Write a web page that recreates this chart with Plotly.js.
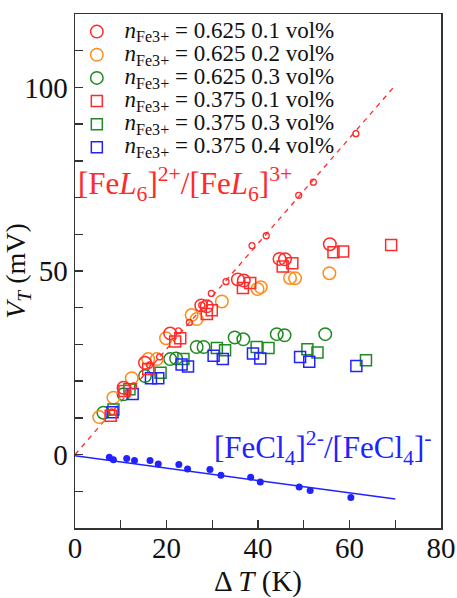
<!DOCTYPE html>
<html>
<head>
<meta charset="utf-8">
<script src="https://cdn.plot.ly/plotly-3.0.1.min.js"></script>
<style>html,body{margin:0;padding:0;background:#fff;}#chart{width:457px;height:598px;}</style>
</head>
<body>
<div id="chart"></div>
<script>
// ---- data ----
var seriesNames = [
  '0.625 0.1 vol%', '0.625 0.2 vol%', '0.625 0.3 vol%',
  '0.375 0.1 vol%', '0.375 0.3 vol%', '0.375 0.4 vol%'
];

var redCircX = [10.6, 15.3, 20.8, 27.6, 28.8, 35.6, 36.9, 44.7, 45.9, 55.7];
var redCircY = [18.2, 25.0, 33.0, 40.6, 40.4, 47.7, 47.4, 53.3, 53.2, 57.3];

var orangeX = [5.3, 8.4, 12.4, 16.0, 17.9, 19.9, 25.5, 26.6, 32.1, 39.9, 40.6, 47.0, 48.1, 55.6];
var orangeY = [10.2, 15.5, 20.8, 26.0, 26.0, 31.7, 38.0, 36.9, 41.7, 45.1, 45.6, 48.1, 48.0, 49.4];

var greenCircX = [6.2, 10.6, 15.3, 20.8, 22.1, 26.6, 28.1, 34.9, 36.8, 44.1, 45.8, 54.7];
var greenCircY = [11.4, 16.4, 21.4, 26.0, 26.2, 29.3, 29.3, 31.9, 31.4, 32.8, 32.5, 32.8];

var redSqX = [7.8, 10.8, 16.0, 21.9, 23.0, 28.8, 29.9, 36.7, 38.3, 45.4, 47.5, 56.5, 58.6, 69.1];
var redSqY = [10.6, 17.3, 23.3, 30.8, 31.7, 38.3, 39.3, 45.4, 46.7, 51.2, 52.1, 55.1, 55.3, 57.1];

var greenSqX = [8.4, 11.9, 18.7, 23.7, 31.0, 32.8, 39.7, 42.3, 50.8, 53.0, 63.6];
var greenSqY = [12.3, 17.8, 22.3, 26.0, 29.0, 28.4, 29.3, 29.0, 28.7, 27.8, 25.7];

var blueSqX = [8.2, 12.6, 16.6, 18.2, 23.3, 24.7, 30.3, 32.3, 38.9, 40.5, 49.2, 51.2, 61.5];
var blueSqY = [11.5, 16.5, 20.8, 20.8, 24.5, 24.0, 26.9, 26.0, 27.5, 26.2, 26.6, 25.3, 24.1];

// small red circles lying on the dashed line
var redSmallX = [8.0, 11.6, 12.8, 16.3, 18.5, 22.6, 25.0, 27.7, 29.8, 33.0, 38.7, 41.8, 48.9, 52.1, 61.4];
var redSmallY = [11.6, 17.0, 18.7, 24.4, 26.6, 33.7, 36.0, 40.7, 43.9, 47.1, 56.9, 59.6, 70.6, 74.2, 87.4];

// [FeCl4]2-/[FeCl4]- filled points
var blueDotX = [7.5, 8.4, 11.3, 13.0, 16.4, 18.2, 22.7, 24.6, 29.5, 31.9, 38.4, 40.5, 49.0, 51.4, 60.3];
var blueDotY = [-0.7, -1.4, -1.1, -1.6, -1.6, -2.6, -2.7, -3.9, -4.1, -5.6, -6.2, -7.5, -8.8, -9.8, -11.7];

// fitted lines
var redLineX = [0, 69.6];
var redLineY = [0, 100];
var blueLineX = [0, 70];
var blueLineY = [-0.3, -12.1];

// ---- styling ----
var RED = '#ff2a2a', ORANGE = '#ff8c1a', GREEN = '#1f8a1f', BLUE = '#2222ff';
function nm(s) {
  return '<span style="font-size:23px">\u00a0\u200a<i>n</i><sub>Fe3+</sub> = ' + s + '</span>';
}

var traces = [
  {x: redLineX, y: redLineY, mode: 'lines', line: {color: RED, width: 1.3, dash: '5px,5px'}, showlegend: false, hoverinfo: 'skip'},
  {x: blueLineX, y: blueLineY, mode: 'lines', line: {color: BLUE, width: 1.5}, showlegend: false, hoverinfo: 'skip'},
  {x: blueDotX, y: blueDotY, mode: 'markers', marker: {symbol: 'circle', size: 7, color: BLUE}, showlegend: false},
  {x: greenCircX, y: greenCircY, name: nm(seriesNames[2]), mode: 'markers', marker: {symbol: 'circle-open', size: 12.5, color: GREEN, line: {width: 1.5}}, legendrank: 3},
  {x: orangeX, y: orangeY, name: nm(seriesNames[1]), mode: 'markers', marker: {symbol: 'circle-open', size: 12.5, color: ORANGE, line: {width: 1.5}}, legendrank: 2},
  {x: greenSqX, y: greenSqY, name: nm(seriesNames[4]), mode: 'markers', marker: {symbol: 'square-open', size: 11, color: GREEN, line: {width: 1.5}}, legendrank: 5},
  {x: blueSqX, y: blueSqY, name: nm(seriesNames[5]), mode: 'markers', marker: {symbol: 'square-open', size: 11, color: BLUE, line: {width: 1.5}}, legendrank: 6},
  {x: redCircX, y: redCircY, name: nm(seriesNames[0]), mode: 'markers', marker: {symbol: 'circle-open', size: 12.5, color: RED, line: {width: 1.5}}, legendrank: 1},
  {x: redSqX, y: redSqY, name: nm(seriesNames[3]), mode: 'markers', marker: {symbol: 'square-open', size: 11, color: RED, line: {width: 1.5}}, legendrank: 4},
  {x: redSmallX, y: redSmallY, mode: 'markers', marker: {symbol: 'circle-open', size: 6, color: RED, line: {width: 1.3}}, showlegend: false}
];

var FONT = '"Liberation Serif", "Times New Roman", serif';
var axisCommon = {
  showgrid: false, zeroline: false, showline: true, mirror: true,
  linecolor: '#333', linewidth: 1.5,
  ticks: 'inside', ticklen: 8, tickwidth: 1.3, tickcolor: '#333',
  tickmode: 'linear', tick0: 0,
  tickfont: {family: FONT, size: 29, color: '#111'}
};

var layout = {
  width: 457, height: 598,
  margin: {l: 75, r: 16, t: 14, b: 70},
  paper_bgcolor: '#fff', plot_bgcolor: '#fff',
  font: {family: FONT, color: '#111'},
  xaxis: Object.assign({}, axisCommon, {
    range: [0, 80], dtick: 20, ticklabelstandoff: -6,
    minor: {tick0: 0, dtick: 10, ticks: 'inside', ticklen: 8, tickwidth: 1.3, tickcolor: '#333', showgrid: false},
    title: {text: 'Δ <i>T</i> (K)', font: {family: FONT, size: 29, color: '#111'}, standoff: 22}
  }),
  yaxis: Object.assign({}, axisCommon, {
    range: [-20, 120], dtick: 50,
    minor: {tick0: 0, dtick: 10, ticks: 'inside', ticklen: 8, tickwidth: 1.3, tickcolor: '#333', showgrid: false},
    title: {text: '<i>V<sub>T</sub></i> (mV)', font: {family: FONT, size: 28, color: '#111'}, standoff: 8}
  }),
  legend: {
    x: 0.005, y: 0.998, xanchor: 'left', yanchor: 'top',
    bgcolor: 'rgba(0,0,0,0)', borderwidth: 0,
    font: {family: FONT, size: 15.5, color: '#111'},
    traceorder: 'normal'
  },
  showlegend: true,
  annotations: [
    {x: 0.3, y: 73.8, xref: 'x', yref: 'y', xanchor: 'left', yanchor: 'middle', showarrow: false,
     text: '[Fe<i>L</i><sub>6</sub>]<sup>2+</sup>/[Fe<i>L</i><sub>6</sub>]<sup>3+</sup>',
     font: {family: FONT, size: 31, color: RED}},
    {x: 30.0, y: 1.9, xref: 'x', yref: 'y', xanchor: 'left', yanchor: 'middle', showarrow: false,
     text: '[FeCl<sub>4</sub>]<sup>2-</sup>/[FeCl<sub>4</sub>]<sup>-</sup>',
     font: {family: FONT, size: 31, color: BLUE}}
  ]
};

Plotly.newPlot('chart', traces, layout, {staticPlot: true, displayModeBar: false});
</script>
</body>
</html>
